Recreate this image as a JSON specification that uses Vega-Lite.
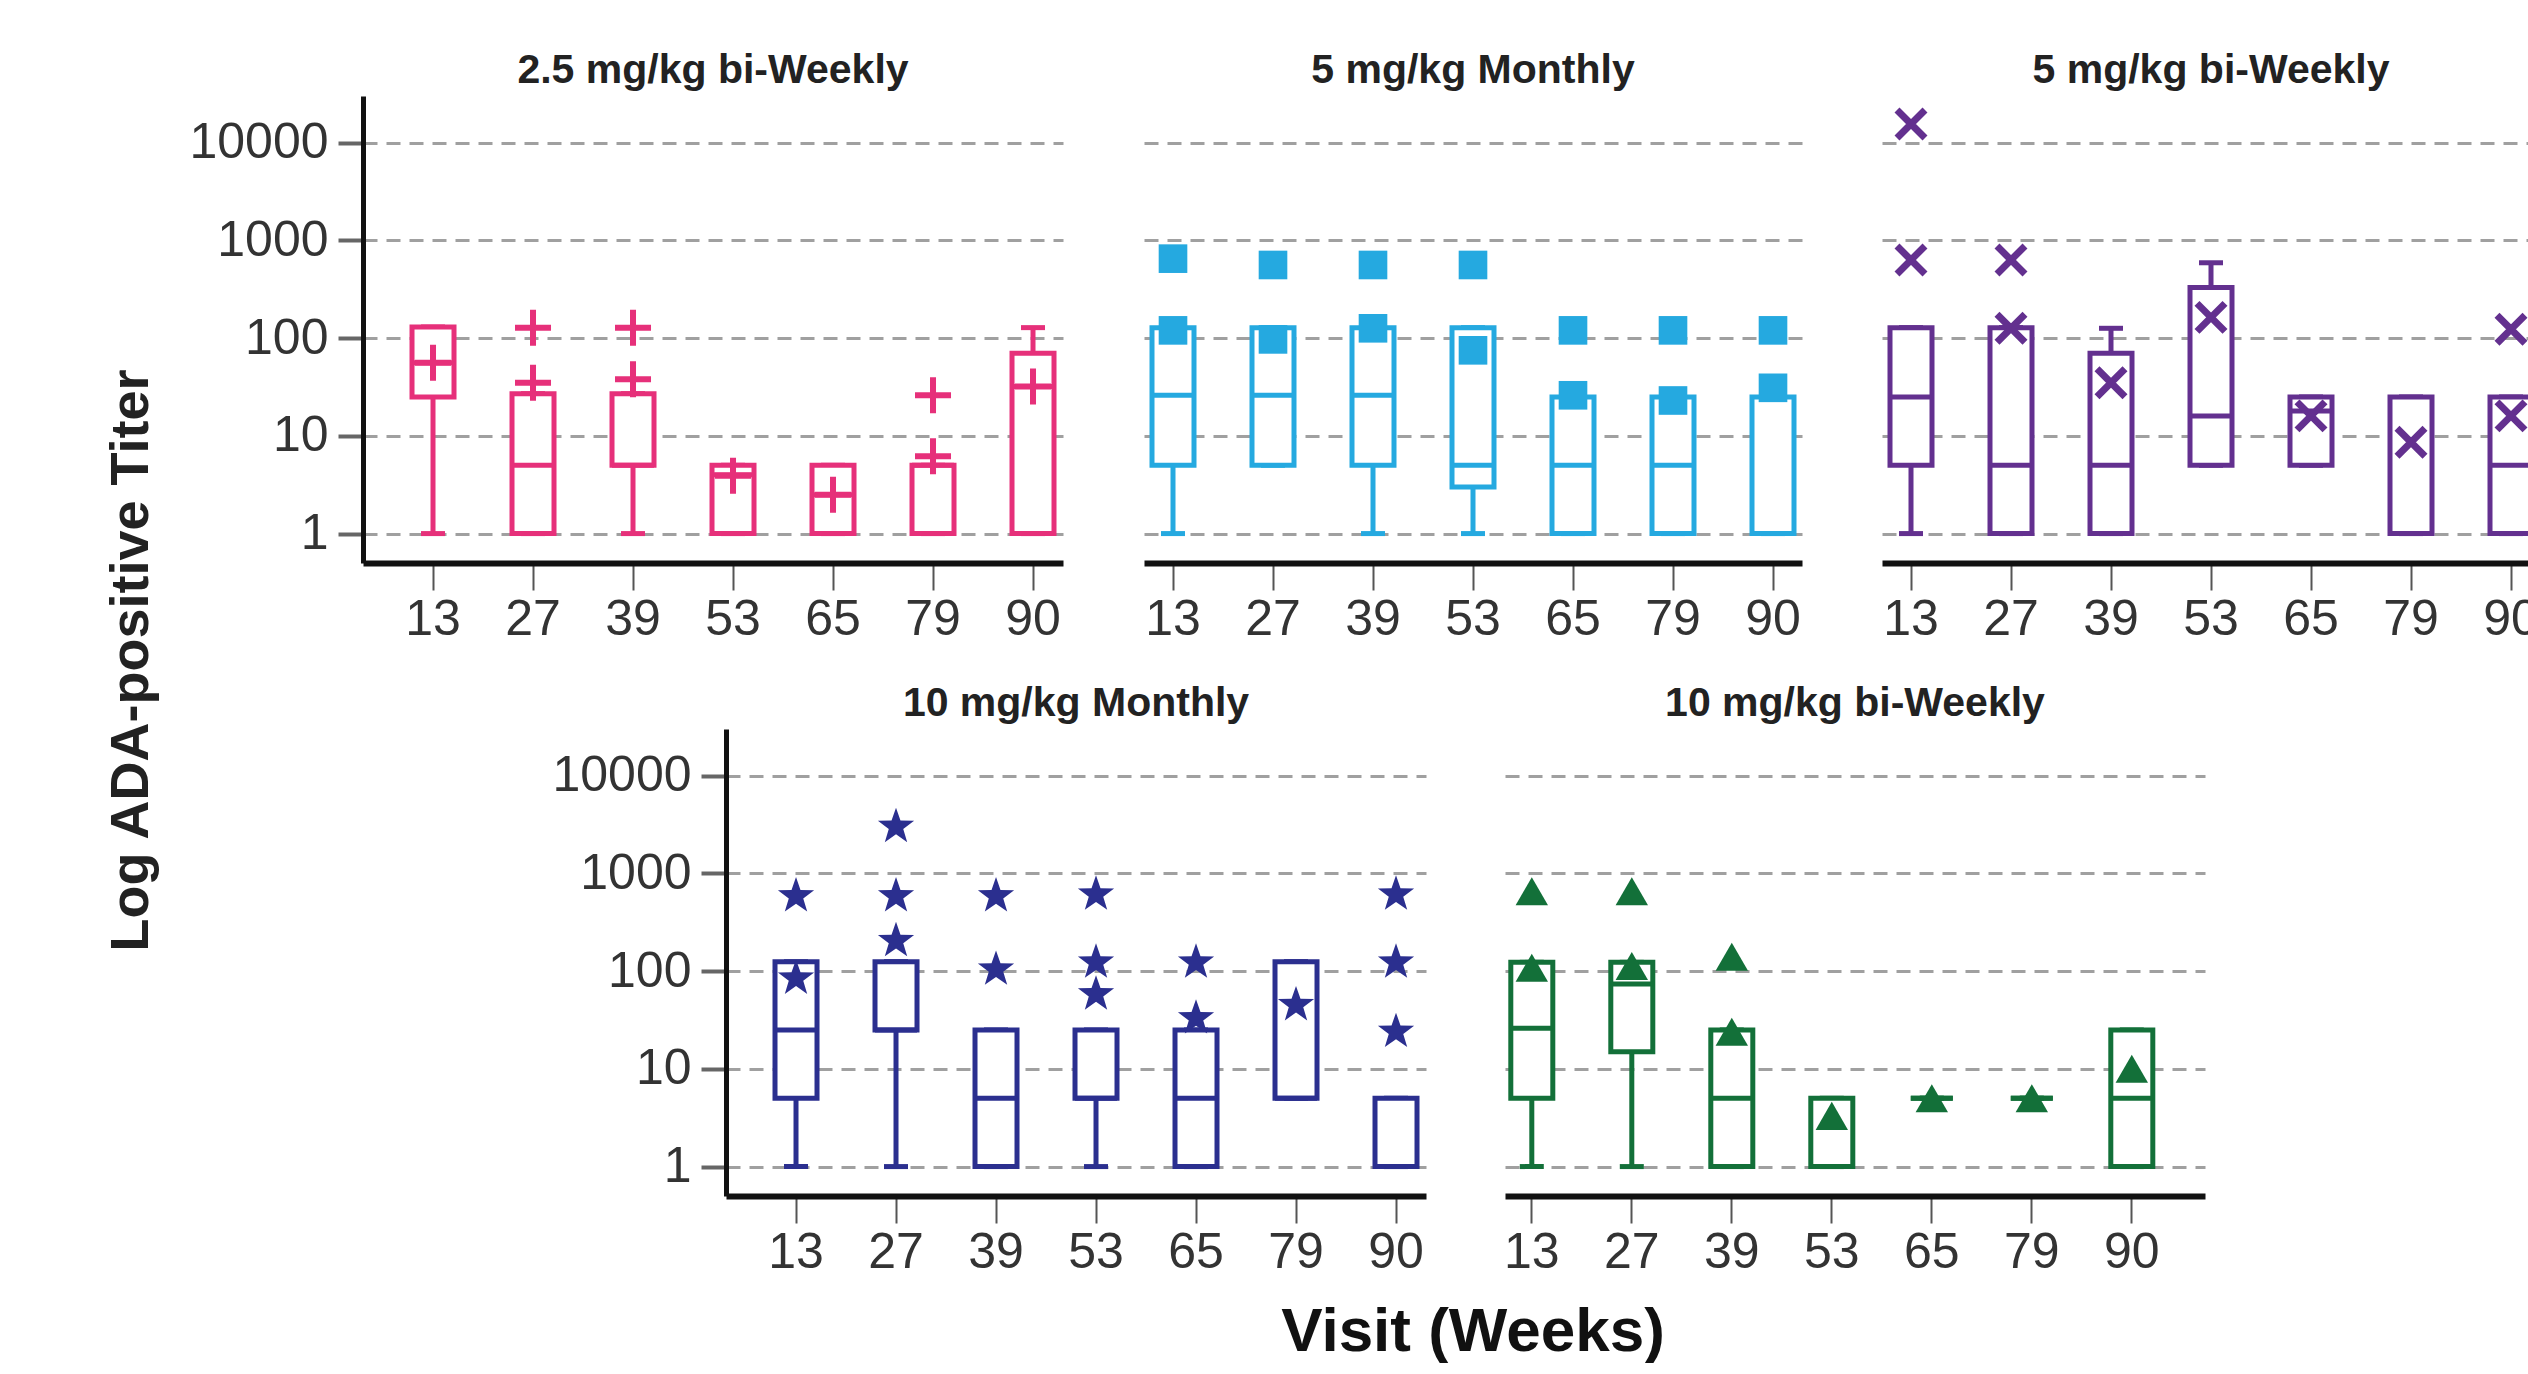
{
  "$schema": "https://vega.github.io/schema/vega-lite/v6.json",
  "background": "white",
  "padding": {"left": 104, "top": 50, "right": 0, "bottom": 0},
  "title": {"text": "Log ADA-positive Titer", "orient": "left", "anchor": "middle", "frame": "bounds", "fontSize": 54, "fontWeight": "bold", "color": "#222", "offset": 30, "dx": 46, "font": "Liberation Sans"},
  "config": {
    "view": {"stroke": null},
    "font": "Liberation Sans",
    "title": {"fontSize": 41, "fontWeight": "bold", "color": "#222", "offset": 4, "font": "Liberation Sans"},
    "axis": {"labelFont": "Liberation Sans", "labelFontSize": 50, "labelColor": "#333"}
  },
  "datasets": {
    "boxes": [
      {"g": "2.5 mg/kg bi-Weekly", "v": "13", "lo": 1, "q1": 25, "med": 56, "q3": 130, "hi": 130},
      {"g": "2.5 mg/kg bi-Weekly", "v": "27", "lo": 1, "q1": 1, "med": 5, "q3": 27, "hi": 27},
      {"g": "2.5 mg/kg bi-Weekly", "v": "39", "lo": 1, "q1": 5, "med": 5, "q3": 27, "hi": 27},
      {"g": "2.5 mg/kg bi-Weekly", "v": "53", "lo": 1, "q1": 1, "med": 4, "q3": 5, "hi": 5},
      {"g": "2.5 mg/kg bi-Weekly", "v": "65", "lo": 1, "q1": 1, "med": 2.5, "q3": 5, "hi": 5},
      {"g": "2.5 mg/kg bi-Weekly", "v": "79", "lo": 1, "q1": 1, "med": 5, "q3": 5, "hi": 5},
      {"g": "2.5 mg/kg bi-Weekly", "v": "90", "lo": 1, "q1": 1, "med": 32, "q3": 70, "hi": 128},
      {"g": "5 mg/kg Monthly", "v": "13", "lo": 1, "q1": 5, "med": 26, "q3": 128, "hi": 128},
      {"g": "5 mg/kg Monthly", "v": "27", "lo": 5, "q1": 5, "med": 26, "q3": 128, "hi": 128},
      {"g": "5 mg/kg Monthly", "v": "39", "lo": 1, "q1": 5, "med": 26, "q3": 128, "hi": 128},
      {"g": "5 mg/kg Monthly", "v": "53", "lo": 1, "q1": 3, "med": 5, "q3": 128, "hi": 128},
      {"g": "5 mg/kg Monthly", "v": "65", "lo": 1, "q1": 1, "med": 5, "q3": 25, "hi": 25},
      {"g": "5 mg/kg Monthly", "v": "79", "lo": 1, "q1": 1, "med": 5, "q3": 25, "hi": 25},
      {"g": "5 mg/kg Monthly", "v": "90", "lo": 1, "q1": 1, "med": 1, "q3": 25, "hi": 25},
      {"g": "5 mg/kg bi-Weekly", "v": "13", "lo": 1, "q1": 5, "med": 25, "q3": 128, "hi": 128},
      {"g": "5 mg/kg bi-Weekly", "v": "27", "lo": 1, "q1": 1, "med": 5, "q3": 128, "hi": 128},
      {"g": "5 mg/kg bi-Weekly", "v": "39", "lo": 1, "q1": 1, "med": 5, "q3": 70, "hi": 126},
      {"g": "5 mg/kg bi-Weekly", "v": "53", "lo": 5, "q1": 5, "med": 16, "q3": 330, "hi": 590},
      {"g": "5 mg/kg bi-Weekly", "v": "65", "lo": 5, "q1": 5, "med": 18, "q3": 25, "hi": 25},
      {"g": "5 mg/kg bi-Weekly", "v": "79", "lo": 1, "q1": 1, "med": 1, "q3": 25, "hi": 25},
      {"g": "5 mg/kg bi-Weekly", "v": "90", "lo": 1, "q1": 1, "med": 5, "q3": 25, "hi": 25},
      {"g": "10 mg/kg Monthly", "v": "13", "lo": 1, "q1": 5, "med": 25, "q3": 125, "hi": 125},
      {"g": "10 mg/kg Monthly", "v": "27", "lo": 1, "q1": 25, "med": 25, "q3": 125, "hi": 125},
      {"g": "10 mg/kg Monthly", "v": "39", "lo": 1, "q1": 1, "med": 5, "q3": 25, "hi": 25},
      {"g": "10 mg/kg Monthly", "v": "53", "lo": 1, "q1": 5, "med": 5, "q3": 25, "hi": 25},
      {"g": "10 mg/kg Monthly", "v": "65", "lo": 1, "q1": 1, "med": 5, "q3": 25, "hi": 25},
      {"g": "10 mg/kg Monthly", "v": "79", "lo": 5, "q1": 5, "med": 5, "q3": 125, "hi": 125},
      {"g": "10 mg/kg Monthly", "v": "90", "lo": 1, "q1": 1, "med": 1, "q3": 5, "hi": 5},
      {"g": "10 mg/kg bi-Weekly", "v": "13", "lo": 1, "q1": 5, "med": 26, "q3": 123, "hi": 123},
      {"g": "10 mg/kg bi-Weekly", "v": "27", "lo": 1, "q1": 15, "med": 74, "q3": 123, "hi": 123},
      {"g": "10 mg/kg bi-Weekly", "v": "39", "lo": 1, "q1": 1, "med": 5, "q3": 25, "hi": 25},
      {"g": "10 mg/kg bi-Weekly", "v": "53", "lo": 1, "q1": 1, "med": 1, "q3": 5, "hi": 5},
      {"g": "10 mg/kg bi-Weekly", "v": "65", "lo": 5, "q1": 5, "med": 5, "q3": 5, "hi": 5},
      {"g": "10 mg/kg bi-Weekly", "v": "79", "lo": 5, "q1": 5, "med": 5, "q3": 5, "hi": 5},
      {"g": "10 mg/kg bi-Weekly", "v": "90", "lo": 1, "q1": 1, "med": 5, "q3": 25, "hi": 25}
    ],
    "pts": [
      {"g": "2.5 mg/kg bi-Weekly", "v": "13", "y": 56},
      {"g": "2.5 mg/kg bi-Weekly", "v": "27", "y": 128},
      {"g": "2.5 mg/kg bi-Weekly", "v": "27", "y": 35},
      {"g": "2.5 mg/kg bi-Weekly", "v": "39", "y": 128},
      {"g": "2.5 mg/kg bi-Weekly", "v": "39", "y": 38},
      {"g": "2.5 mg/kg bi-Weekly", "v": "53", "y": 3.9},
      {"g": "2.5 mg/kg bi-Weekly", "v": "65", "y": 2.5},
      {"g": "2.5 mg/kg bi-Weekly", "v": "79", "y": 26},
      {"g": "2.5 mg/kg bi-Weekly", "v": "79", "y": 6.2},
      {"g": "2.5 mg/kg bi-Weekly", "v": "90", "y": 32},
      {"g": "5 mg/kg Monthly", "v": "13", "y": 650},
      {"g": "5 mg/kg Monthly", "v": "13", "y": 120},
      {"g": "5 mg/kg Monthly", "v": "27", "y": 560},
      {"g": "5 mg/kg Monthly", "v": "27", "y": 97},
      {"g": "5 mg/kg Monthly", "v": "39", "y": 560},
      {"g": "5 mg/kg Monthly", "v": "39", "y": 126},
      {"g": "5 mg/kg Monthly", "v": "53", "y": 560},
      {"g": "5 mg/kg Monthly", "v": "53", "y": 75},
      {"g": "5 mg/kg Monthly", "v": "65", "y": 120},
      {"g": "5 mg/kg Monthly", "v": "65", "y": 26},
      {"g": "5 mg/kg Monthly", "v": "79", "y": 120},
      {"g": "5 mg/kg Monthly", "v": "79", "y": 23},
      {"g": "5 mg/kg Monthly", "v": "90", "y": 120},
      {"g": "5 mg/kg Monthly", "v": "90", "y": 31},
      {"g": "5 mg/kg bi-Weekly", "v": "13", "y": 15500},
      {"g": "5 mg/kg bi-Weekly", "v": "13", "y": 630},
      {"g": "5 mg/kg bi-Weekly", "v": "27", "y": 630},
      {"g": "5 mg/kg bi-Weekly", "v": "27", "y": 126},
      {"g": "5 mg/kg bi-Weekly", "v": "39", "y": 35},
      {"g": "5 mg/kg bi-Weekly", "v": "53", "y": 163},
      {"g": "5 mg/kg bi-Weekly", "v": "65", "y": 16},
      {"g": "5 mg/kg bi-Weekly", "v": "79", "y": 8.6},
      {"g": "5 mg/kg bi-Weekly", "v": "90", "y": 123},
      {"g": "5 mg/kg bi-Weekly", "v": "90", "y": 16},
      {"g": "10 mg/kg Monthly", "v": "13", "y": 585},
      {"g": "10 mg/kg Monthly", "v": "13", "y": 84},
      {"g": "10 mg/kg Monthly", "v": "27", "y": 3000},
      {"g": "10 mg/kg Monthly", "v": "27", "y": 585},
      {"g": "10 mg/kg Monthly", "v": "27", "y": 204},
      {"g": "10 mg/kg Monthly", "v": "39", "y": 585},
      {"g": "10 mg/kg Monthly", "v": "39", "y": 104},
      {"g": "10 mg/kg Monthly", "v": "53", "y": 610},
      {"g": "10 mg/kg Monthly", "v": "53", "y": 123},
      {"g": "10 mg/kg Monthly", "v": "53", "y": 58},
      {"g": "10 mg/kg Monthly", "v": "65", "y": 123},
      {"g": "10 mg/kg Monthly", "v": "65", "y": 33},
      {"g": "10 mg/kg Monthly", "v": "79", "y": 45},
      {"g": "10 mg/kg Monthly", "v": "90", "y": 610},
      {"g": "10 mg/kg Monthly", "v": "90", "y": 123},
      {"g": "10 mg/kg Monthly", "v": "90", "y": 24},
      {"g": "10 mg/kg bi-Weekly", "v": "13", "y": 655},
      {"g": "10 mg/kg bi-Weekly", "v": "13", "y": 108},
      {"g": "10 mg/kg bi-Weekly", "v": "27", "y": 655},
      {"g": "10 mg/kg bi-Weekly", "v": "27", "y": 113},
      {"g": "10 mg/kg bi-Weekly", "v": "39", "y": 140},
      {"g": "10 mg/kg bi-Weekly", "v": "39", "y": 24},
      {"g": "10 mg/kg bi-Weekly", "v": "53", "y": 3.3},
      {"g": "10 mg/kg bi-Weekly", "v": "65", "y": 5},
      {"g": "10 mg/kg bi-Weekly", "v": "79", "y": 5},
      {"g": "10 mg/kg bi-Weekly", "v": "90", "y": 10}
    ]
  },
  "spacing": 39,
  "vconcat": [
    {
      "spacing": 80,
      "hconcat": [
        {
          "width": 700, "height": 467,
          "title": {"text": "2.5 mg/kg bi-Weekly"},
          "encoding": {"x": {"field": "v", "type": "ordinal", "title": null, "scale": {"domain": ["13","27","39","53","65","79","90"], "paddingInner": 0.58, "paddingOuter": 0.29, "align": 0.845}, "axis": {"labelAngle": 0, "domainColor": "#111", "domainWidth": 6, "tickColor": "#555", "tickWidth": 2, "tickSize": 27, "labelPadding": 4, "grid": false}}},
          "layer": [
            {"data": {"name": "boxes"}, "transform": [{"filter": "datum.g === '2.5 mg/kg bi-Weekly'"}], "mark": {"type": "rule", "color": "#e6307a", "strokeWidth": 5},
             "encoding": {"y": {"field": "lo", "type": "quantitative", "title": null, "scale": {"type": "log", "domain": [0.5, 30000], "nice": false}, "axis": {"values": [1,10,100,1000,10000], "format": "d", "grid": true, "gridDash": [14,9], "gridColor": "#a0a0a0", "gridWidth": 3, "domainColor": "#111", "domainWidth": 5, "tickColor": "#666", "tickWidth": 4, "tickSize": 25, "labelPadding": 10}}, "y2": {"field": "hi"}}},
            {"data": {"name": "boxes"}, "transform": [{"filter": "datum.g === '2.5 mg/kg bi-Weekly'"}], "mark": {"type": "tick", "color": "#e6307a", "thickness": 5, "size": 24, "opacity": 1}, "encoding": {"y": {"field": "lo", "type": "quantitative", "title": null}}},
            {"data": {"name": "boxes"}, "transform": [{"filter": "datum.g === '2.5 mg/kg bi-Weekly'"}], "mark": {"type": "tick", "color": "#e6307a", "thickness": 5, "size": 24, "opacity": 1}, "encoding": {"y": {"field": "hi", "type": "quantitative", "title": null}}},
            {"data": {"name": "boxes"}, "transform": [{"filter": "datum.g === '2.5 mg/kg bi-Weekly'"}], "mark": {"type": "bar", "fill": "white", "stroke": "#e6307a", "strokeWidth": 5}, "encoding": {"y": {"field": "q1", "type": "quantitative", "title": null}, "y2": {"field": "q3"}}},
            {"data": {"name": "boxes"}, "transform": [{"filter": "datum.g === '2.5 mg/kg bi-Weekly'"}], "mark": {"type": "tick", "color": "#e6307a", "thickness": 5, "size": 42, "opacity": 1}, "encoding": {"y": {"field": "med", "type": "quantitative", "title": null}}},
            {"data": {"name": "pts"}, "transform": [{"filter": "datum.g === '2.5 mg/kg bi-Weekly'"}], "mark": {"type": "point", "shape": "M-1,0L1,0M0,-1L0,1", "filled": false, "stroke": "#e6307a", "strokeWidth": 6, "size": 1296, "opacity": 1}, "encoding": {"y": {"field": "y", "type": "quantitative", "title": null}}}
          ]
        },
        {
          "width": 658, "height": 467,
          "title": {"text": "5 mg/kg Monthly"},
          "encoding": {"x": {"field": "v", "type": "ordinal", "title": null, "scale": {"domain": ["13","27","39","53","65","79","90"], "paddingInner": 0.58, "paddingOuter": 0.08, "align": 0.5}, "axis": {"labelAngle": 0, "domainColor": "#111", "domainWidth": 6, "tickColor": "#555", "tickWidth": 2, "tickSize": 27, "labelPadding": 4, "grid": false}}},
          "layer": [
            {"data": {"name": "boxes"}, "transform": [{"filter": "datum.g === '5 mg/kg Monthly'"}], "mark": {"type": "rule", "color": "#25a9e0", "strokeWidth": 5},
             "encoding": {"y": {"field": "lo", "type": "quantitative", "title": null, "scale": {"type": "log", "domain": [0.5, 30000], "nice": false}, "axis": {"values": [1,10,100,1000,10000], "grid": true, "gridDash": [14,9], "gridColor": "#a0a0a0", "gridWidth": 3, "domain": false, "ticks": false, "labels": false}}, "y2": {"field": "hi"}}},
            {"data": {"name": "boxes"}, "transform": [{"filter": "datum.g === '5 mg/kg Monthly'"}], "mark": {"type": "tick", "color": "#25a9e0", "thickness": 5, "size": 24, "opacity": 1}, "encoding": {"y": {"field": "lo", "type": "quantitative", "title": null}}},
            {"data": {"name": "boxes"}, "transform": [{"filter": "datum.g === '5 mg/kg Monthly'"}], "mark": {"type": "tick", "color": "#25a9e0", "thickness": 5, "size": 24, "opacity": 1}, "encoding": {"y": {"field": "hi", "type": "quantitative", "title": null}}},
            {"data": {"name": "boxes"}, "transform": [{"filter": "datum.g === '5 mg/kg Monthly'"}], "mark": {"type": "bar", "fill": "white", "stroke": "#25a9e0", "strokeWidth": 5}, "encoding": {"y": {"field": "q1", "type": "quantitative", "title": null}, "y2": {"field": "q3"}}},
            {"data": {"name": "boxes"}, "transform": [{"filter": "datum.g === '5 mg/kg Monthly'"}], "mark": {"type": "tick", "color": "#25a9e0", "thickness": 5, "size": 42, "opacity": 1}, "encoding": {"y": {"field": "med", "type": "quantitative", "title": null}}},
            {"data": {"name": "pts"}, "transform": [{"filter": "datum.g === '5 mg/kg Monthly'"}], "mark": {"type": "point", "shape": "square", "filled": true, "color": "#25a9e0", "size": 820, "opacity": 1}, "encoding": {"y": {"field": "y", "type": "quantitative", "title": null}}}
          ]
        },
        {
          "width": 658, "height": 467,
          "title": {"text": "5 mg/kg bi-Weekly"},
          "encoding": {"x": {"field": "v", "type": "ordinal", "title": null, "scale": {"domain": ["13","27","39","53","65","79","90"], "paddingInner": 0.58, "paddingOuter": 0.08, "align": 0.5}, "axis": {"labelAngle": 0, "domainColor": "#111", "domainWidth": 6, "tickColor": "#555", "tickWidth": 2, "tickSize": 27, "labelPadding": 4, "grid": false}}},
          "layer": [
            {"data": {"name": "boxes"}, "transform": [{"filter": "datum.g === '5 mg/kg bi-Weekly'"}], "mark": {"type": "rule", "color": "#63308f", "strokeWidth": 5},
             "encoding": {"y": {"field": "lo", "type": "quantitative", "title": null, "scale": {"type": "log", "domain": [0.5, 30000], "nice": false}, "axis": {"values": [1,10,100,1000,10000], "grid": true, "gridDash": [14,9], "gridColor": "#a0a0a0", "gridWidth": 3, "domain": false, "ticks": false, "labels": false}}, "y2": {"field": "hi"}}},
            {"data": {"name": "boxes"}, "transform": [{"filter": "datum.g === '5 mg/kg bi-Weekly'"}], "mark": {"type": "tick", "color": "#63308f", "thickness": 5, "size": 24, "opacity": 1}, "encoding": {"y": {"field": "lo", "type": "quantitative", "title": null}}},
            {"data": {"name": "boxes"}, "transform": [{"filter": "datum.g === '5 mg/kg bi-Weekly'"}], "mark": {"type": "tick", "color": "#63308f", "thickness": 5, "size": 24, "opacity": 1}, "encoding": {"y": {"field": "hi", "type": "quantitative", "title": null}}},
            {"data": {"name": "boxes"}, "transform": [{"filter": "datum.g === '5 mg/kg bi-Weekly'"}], "mark": {"type": "bar", "fill": "white", "stroke": "#63308f", "strokeWidth": 5}, "encoding": {"y": {"field": "q1", "type": "quantitative", "title": null}, "y2": {"field": "q3"}}},
            {"data": {"name": "boxes"}, "transform": [{"filter": "datum.g === '5 mg/kg bi-Weekly'"}], "mark": {"type": "tick", "color": "#63308f", "thickness": 5, "size": 42, "opacity": 1}, "encoding": {"y": {"field": "med", "type": "quantitative", "title": null}}},
            {"data": {"name": "pts"}, "transform": [{"filter": "datum.g === '5 mg/kg bi-Weekly'"}], "mark": {"type": "point", "shape": "M-1,-1L1,1M-1,1L1,-1", "filled": false, "stroke": "#63308f", "strokeWidth": 7, "size": 784, "opacity": 1}, "encoding": {"y": {"field": "y", "type": "quantitative", "title": null}}}
          ]
        }
      ]
    },
    {
      "spacing": 77,
      "title": {"text": "Visit (Weeks)", "orient": "bottom", "anchor": "middle", "frame": "bounds", "fontSize": 62, "fontWeight": "bold", "color": "#111", "offset": 25, "dx": 189, "font": "Liberation Sans"},
      "hconcat": [
        {
          "width": 111, "height": 467,
          "data": {"values": [{"a": 1}]},
          "mark": {"type": "point", "opacity": 0},
          "encoding": {}
        },
        {
          "width": 700, "height": 467,
          "title": {"text": "10 mg/kg Monthly"},
          "encoding": {"x": {"field": "v", "type": "ordinal", "title": null, "scale": {"domain": ["13","27","39","53","65","79","90"], "paddingInner": 0.58, "paddingOuter": 0.29, "align": 0.845}, "axis": {"labelAngle": 0, "domainColor": "#111", "domainWidth": 6, "tickColor": "#555", "tickWidth": 2, "tickSize": 27, "labelPadding": 4, "grid": false}}},
          "layer": [
            {"data": {"name": "boxes"}, "transform": [{"filter": "datum.g === '10 mg/kg Monthly'"}], "mark": {"type": "rule", "color": "#2b2f8f", "strokeWidth": 5},
             "encoding": {"y": {"field": "lo", "type": "quantitative", "title": null, "scale": {"type": "log", "domain": [0.5, 30000], "nice": false}, "axis": {"values": [1,10,100,1000,10000], "format": "d", "grid": true, "gridDash": [14,9], "gridColor": "#a0a0a0", "gridWidth": 3, "domainColor": "#111", "domainWidth": 5, "tickColor": "#666", "tickWidth": 4, "tickSize": 25, "labelPadding": 10}}, "y2": {"field": "hi"}}},
            {"data": {"name": "boxes"}, "transform": [{"filter": "datum.g === '10 mg/kg Monthly'"}], "mark": {"type": "tick", "color": "#2b2f8f", "thickness": 5, "size": 24, "opacity": 1}, "encoding": {"y": {"field": "lo", "type": "quantitative", "title": null}}},
            {"data": {"name": "boxes"}, "transform": [{"filter": "datum.g === '10 mg/kg Monthly'"}], "mark": {"type": "tick", "color": "#2b2f8f", "thickness": 5, "size": 24, "opacity": 1}, "encoding": {"y": {"field": "hi", "type": "quantitative", "title": null}}},
            {"data": {"name": "boxes"}, "transform": [{"filter": "datum.g === '10 mg/kg Monthly'"}], "mark": {"type": "bar", "fill": "white", "stroke": "#2b2f8f", "strokeWidth": 5}, "encoding": {"y": {"field": "q1", "type": "quantitative", "title": null}, "y2": {"field": "q3"}}},
            {"data": {"name": "boxes"}, "transform": [{"filter": "datum.g === '10 mg/kg Monthly'"}], "mark": {"type": "tick", "color": "#2b2f8f", "thickness": 5, "size": 42, "opacity": 1}, "encoding": {"y": {"field": "med", "type": "quantitative", "title": null}}},
            {"data": {"name": "pts"}, "transform": [{"filter": "datum.g === '10 mg/kg Monthly'"}], "mark": {"type": "point", "shape": "M0,-1L0.235,-0.324L0.951,-0.309L0.38,0.124L0.588,0.809L0,0.4L-0.588,0.809L-0.38,0.124L-0.951,-0.309L-0.235,-0.324Z", "filled": true, "color": "#2b2f8f", "size": 1450, "opacity": 1}, "encoding": {"y": {"field": "y", "type": "quantitative", "title": null}}}
          ]
        },
        {
          "width": 700, "height": 467,
          "title": {"text": "10 mg/kg bi-Weekly"},
          "encoding": {"x": {"field": "v", "type": "ordinal", "title": null, "scale": {"domain": ["13","27","39","53","65","79","90"], "paddingInner": 0.58, "paddingOuter": 0.29, "align": 0.1}, "axis": {"labelAngle": 0, "domainColor": "#111", "domainWidth": 6, "tickColor": "#555", "tickWidth": 2, "tickSize": 27, "labelPadding": 4, "grid": false}}},
          "layer": [
            {"data": {"name": "boxes"}, "transform": [{"filter": "datum.g === '10 mg/kg bi-Weekly'"}], "mark": {"type": "rule", "color": "#137039", "strokeWidth": 5},
             "encoding": {"y": {"field": "lo", "type": "quantitative", "title": null, "scale": {"type": "log", "domain": [0.5, 30000], "nice": false}, "axis": {"values": [1,10,100,1000,10000], "grid": true, "gridDash": [14,9], "gridColor": "#a0a0a0", "gridWidth": 3, "domain": false, "ticks": false, "labels": false}}, "y2": {"field": "hi"}}},
            {"data": {"name": "boxes"}, "transform": [{"filter": "datum.g === '10 mg/kg bi-Weekly'"}], "mark": {"type": "tick", "color": "#137039", "thickness": 5, "size": 24, "opacity": 1}, "encoding": {"y": {"field": "lo", "type": "quantitative", "title": null}}},
            {"data": {"name": "boxes"}, "transform": [{"filter": "datum.g === '10 mg/kg bi-Weekly'"}], "mark": {"type": "tick", "color": "#137039", "thickness": 5, "size": 24, "opacity": 1}, "encoding": {"y": {"field": "hi", "type": "quantitative", "title": null}}},
            {"data": {"name": "boxes"}, "transform": [{"filter": "datum.g === '10 mg/kg bi-Weekly'"}], "mark": {"type": "bar", "fill": "white", "stroke": "#137039", "strokeWidth": 5}, "encoding": {"y": {"field": "q1", "type": "quantitative", "title": null}, "y2": {"field": "q3"}}},
            {"data": {"name": "boxes"}, "transform": [{"filter": "datum.g === '10 mg/kg bi-Weekly'"}], "mark": {"type": "tick", "color": "#137039", "thickness": 5, "size": 42, "opacity": 1}, "encoding": {"y": {"field": "med", "type": "quantitative", "title": null}}},
            {"data": {"name": "pts"}, "transform": [{"filter": "datum.g === '10 mg/kg bi-Weekly'"}], "mark": {"type": "point", "shape": "triangle-up", "filled": true, "color": "#137039", "size": 1050, "opacity": 1}, "encoding": {"y": {"field": "y", "type": "quantitative", "title": null}}}
          ]
        }
      ]
    }
  ]
}
